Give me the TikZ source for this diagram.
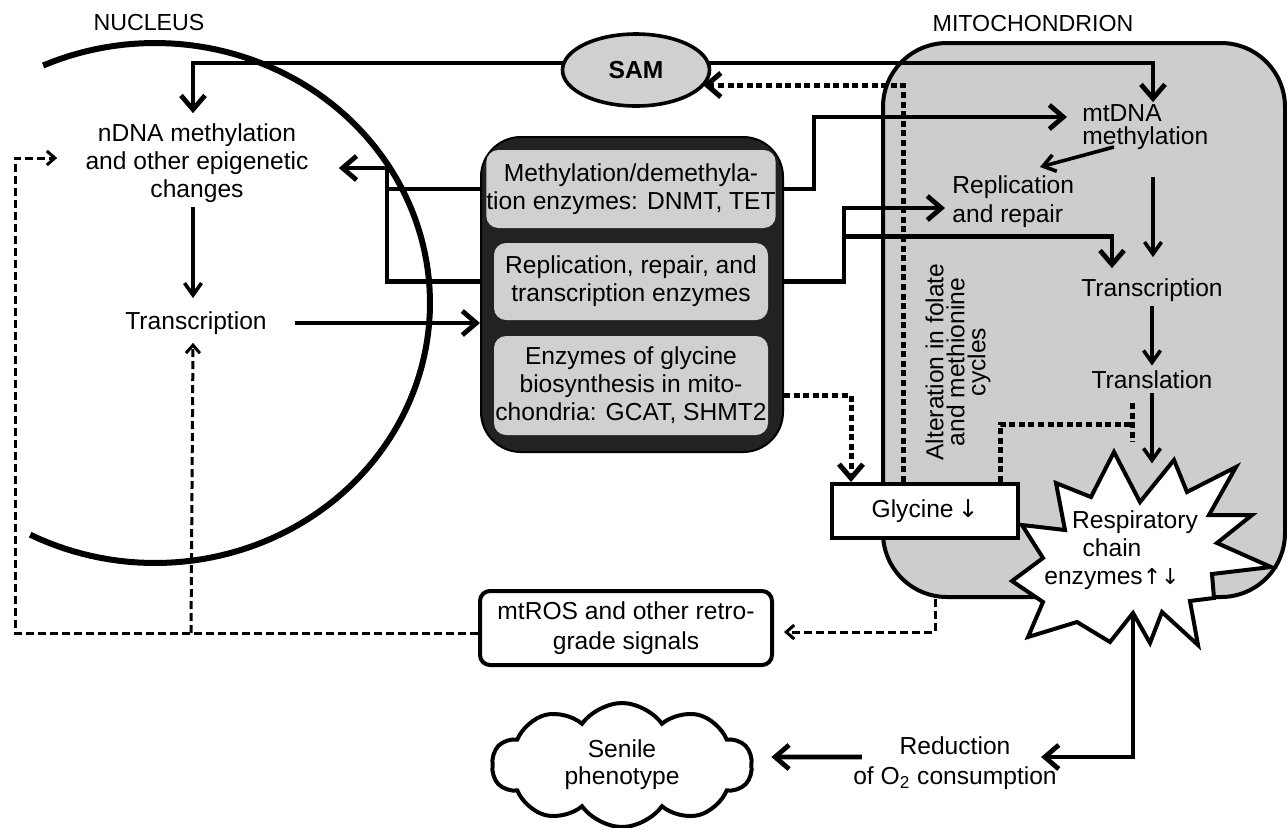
\documentclass[tikz,border=0pt]{standalone}
\usepackage{fontspec}
\setmainfont{Liberation Sans}
\newfontfamily\symfont{DejaVu Sans}
\usetikzlibrary{arrows.meta,calc,shapes.geometric,shapes.symbols}
\definecolor{lgray}{HTML}{D0D0D0}
\definecolor{mgray}{HTML}{CDCDCD}
\definecolor{dbox}{HTML}{222222}
\begin{document}
\begin{tikzpicture}[x=0.5pt,y=-0.5pt,
  font=\fontsize{12.3}{14}\selectfont,
  txt/.style={inner sep=2pt, align=center},
  ibox/.style={fill=lgray, rounded corners=6pt, minimum width=137pt, inner sep=0pt, align=center},
  thickline/.style={line width=2.4pt},
  thickarrow/.style={line width=2.4pt, -{Straight Barb[length=7pt,width=12pt]}},
  thinarrow/.style={line width=1.8pt, -{Straight Barb[length=6pt,width=8.5pt]}},
  dashline/.style={line width=1.5pt, dash pattern=on 4pt off 2pt},
  dasharrow/.style={dashline, -{Straight Barb[length=4pt,width=7pt]}},
  dotline/.style={line width=2.5pt, dash pattern=on 3pt off 1.8pt},
  dotarrow/.style={dotline, -{Straight Barb[length=7pt,width=12pt]}}
]
\fill[white] (0,0) rectangle (1287,827);
\useasboundingbox (0,0) rectangle (1287,827);

% compartments
\node[draw, line width=2pt, fill=mgray, rounded corners=32pt, minimum width=201pt, minimum height=277pt, inner sep=0pt] (mito) at (1084,320) {};
\draw[line width=3pt] plot[domain=-114:117, samples=120] ({155+275*cos(\x)},{303+260*sin(\x)});

\node[txt, font=\fontsize{11.6}{13}\selectfont] (nuc) at (149,23) {NUCLEUS};
\node[txt, font=\fontsize{11.6}{13}\selectfont] (mitol) at (1033,24) {MITOCHONDRION};

% SAM
\node[draw, line width=1.8pt, fill=lgray, ellipse, minimum width=73.5pt, minimum height=36pt, inner sep=0pt, font=\bfseries\fontsize{12.3}{14}\selectfont] (sam) at (636,70) {SAM};

% enzyme block
\node[draw=black, line width=1pt, fill=dbox, rounded corners=20pt, minimum width=151pt, minimum height=157.5pt, inner sep=0pt] (dark) at (632,294.5) {};
\node[ibox, minimum height=39pt] (b1) at (631,189) {Methylation/demethyla-\\tion enzymes: DNMT, TET};
\node[ibox, minimum height=38.5pt] (b2) at (631,281.5) {Replication, repair, and\\transcription enzymes};
\node[ibox, minimum height=49.5pt] (b3) at (631,385.5) {Enzymes of glycine\\biosynthesis in mito-\\chondria: GCAT, SHMT2};

% nucleus texts
\node[txt] (ndna) at (197,163) {nDNA methylation\\and other epigenetic\\changes};
\node[txt] (ntr) at (196,323) {Transcription};

% mitochondrion texts
\node[anchor=west, align=left, inner sep=0pt, font=\fontsize{12.3}{11.5}\selectfont] (mtdna) at (1082,127) {mtDNA\\methylation};
\node[anchor=west, align=left, inner sep=0pt, font=\fontsize{12.3}{14.5}\selectfont] (rep) at (952,202) {Replication\\and repair};
\node[txt] (mtr) at (1152,290) {Transcription};
\node[txt] (tl) at (1152,380) {Translation};
\node[txt, rotate=90, font=\fontsize{12.3}{10.5}\selectfont] (alt) at (958,362) {Alteration in folate\\and methionine\\cycles};

% starburst
\draw[fill=white, line width=2pt] (1114,452) -- (1140,502) -- (1174,460) -- (1187,492) -- (1236,467) -- (1209,515) -- (1252,515) -- (1217,543) -- (1271,567) -- (1212,574) -- (1214,598) -- (1190,601) -- (1198,645) -- (1162,612) -- (1150,643) -- (1133,613) -- (1110,642) -- (1077,622) -- (1028,637) -- (1043,602) -- (1012,581) -- (1043,558) -- (1022,525) -- (1065,530) -- (1056,483) -- (1091,497) -- cycle;
\node[txt] (resp) at (1112,550) {\hspace*{23pt}Respiratory\\chain\\enzymes{\symfont\fontsize{11}{14}\selectfont ↑↓}};
\coordinate (starbot) at (1133,613);

% glycine
\node[draw, fill=white, line width=2pt, minimum width=93pt, minimum height=27pt, inner sep=0pt] (gly) at (925,511) {Glycine\,{\symfont ↓}};

% lower nodes
\node[draw, fill=white, line width=2pt, rounded corners=5pt, minimum width=146pt, minimum height=37pt, inner sep=0pt, align=center, font=\fontsize{12.3}{15}\selectfont] (ros) at (626,628) {mtROS and other retro-\\grade signals};
\node[cloud, draw, line width=2pt, cloud puffs=10, cloud puff arc=110, aspect=2.1, minimum width=130pt, minimum height=62pt, inner sep=0pt, align=center, font=\fontsize{12.3}{13.5}\selectfont] (cloud) at (622,765) {Senile\\phenotype};
\node[txt, font=\fontsize{12.3}{15}\selectfont] (red) at (955,763) {Reduction\\of O\textsubscript{2} consumption};

% ---- connectors ----
% SAM
\draw[thickarrow] ($(sam.center)+(-72,-7)$) -| ($(ndna.north)+(-4,-6)$);
\draw[thickarrow] ($(sam.center)+(72,-7)$) -| ($(mtdna.north west)+(71,-2)$);

% enzymes to nucleus
\draw[thickline] (dark.west |- b1.west) -- ++(-93,0);
\draw[thickarrow] (dark.west |- b2.west) -- ++(-93,0) |- ($(ndna.east)+(26,5)$);
\draw[thickarrow] ($(ntr.east)+(24,0)$) -- (dark.west |- ntr.east);
\draw[thinarrow] ($(ndna.south)+(-4,0)$) -- ($(ntr.north)+(-3,-9)$);

% enzymes to mitochondrion
\draw[thickarrow] (dark.east |- b1.east) -- ++(30,0) |- ($(mtdna.west)+(-15,-10)$);
\draw[thickarrow] (dark.east |- b2.east) -- ++(60,0) |- ($(rep.west)+(-7,6)$);
\draw[thickarrow] ($(dark.east |- b2.east)+(60,-45)$) -| ($(mtr.north)+(-40,-6)$);

% inside mitochondrion
\draw[thinarrow] ($(mtdna.west)+(32,20)$) -- ($(rep.west)+(88,-35)$);
\draw[thinarrow] ($(mtdna.west)+(71,50)$) -- ($(mtr.north)+(1,-17)$);
\draw[thinarrow] (mtr.south) -- ($(tl.north)+(0,-1)$);
\draw[thinarrow] (tl.south) -- ++(0,70);

% dotted
\draw[dotarrow] ($(gly.north west)+(73,0)$) |- ($(sam.center)+(67,15)$);
\draw[dotarrow] ($(dark.east |- b3.east)+(0,10)$) -| ($(gly.north west)+(21,0)$);
\coordinate (inh) at ($(tl.center)+(-20,44)$);
\draw[dotline] ($(gly.north east)+(-20,0)$) |- (inh);
\draw[dotline] ($(inh)+(0,-21)$) -- ($(inh)+(0,18)$);

% dashed retrograde
\draw[dasharrow] ($(mito.south west)+(54,0)$) |- ($(ros.east)+(10,4)$);
\draw[dasharrow] ($(ros.west)+(0,5)$) -- ++(-463,0) |- ($(ndna.west)+(-24,-5)$);
\draw[dasharrow] ($(ros.west)+(-287,5)$) -- ($(ntr.south)+(-3,4)$);

% to phenotype
\draw[thickarrow] (starbot) |- ($(red.east)+(-20,-6)$);
\draw[thickarrow] ($(red.west)+(13,-6)$) -- ($(cloud.east)+(18,-8)$);
\end{tikzpicture}
\end{document}
